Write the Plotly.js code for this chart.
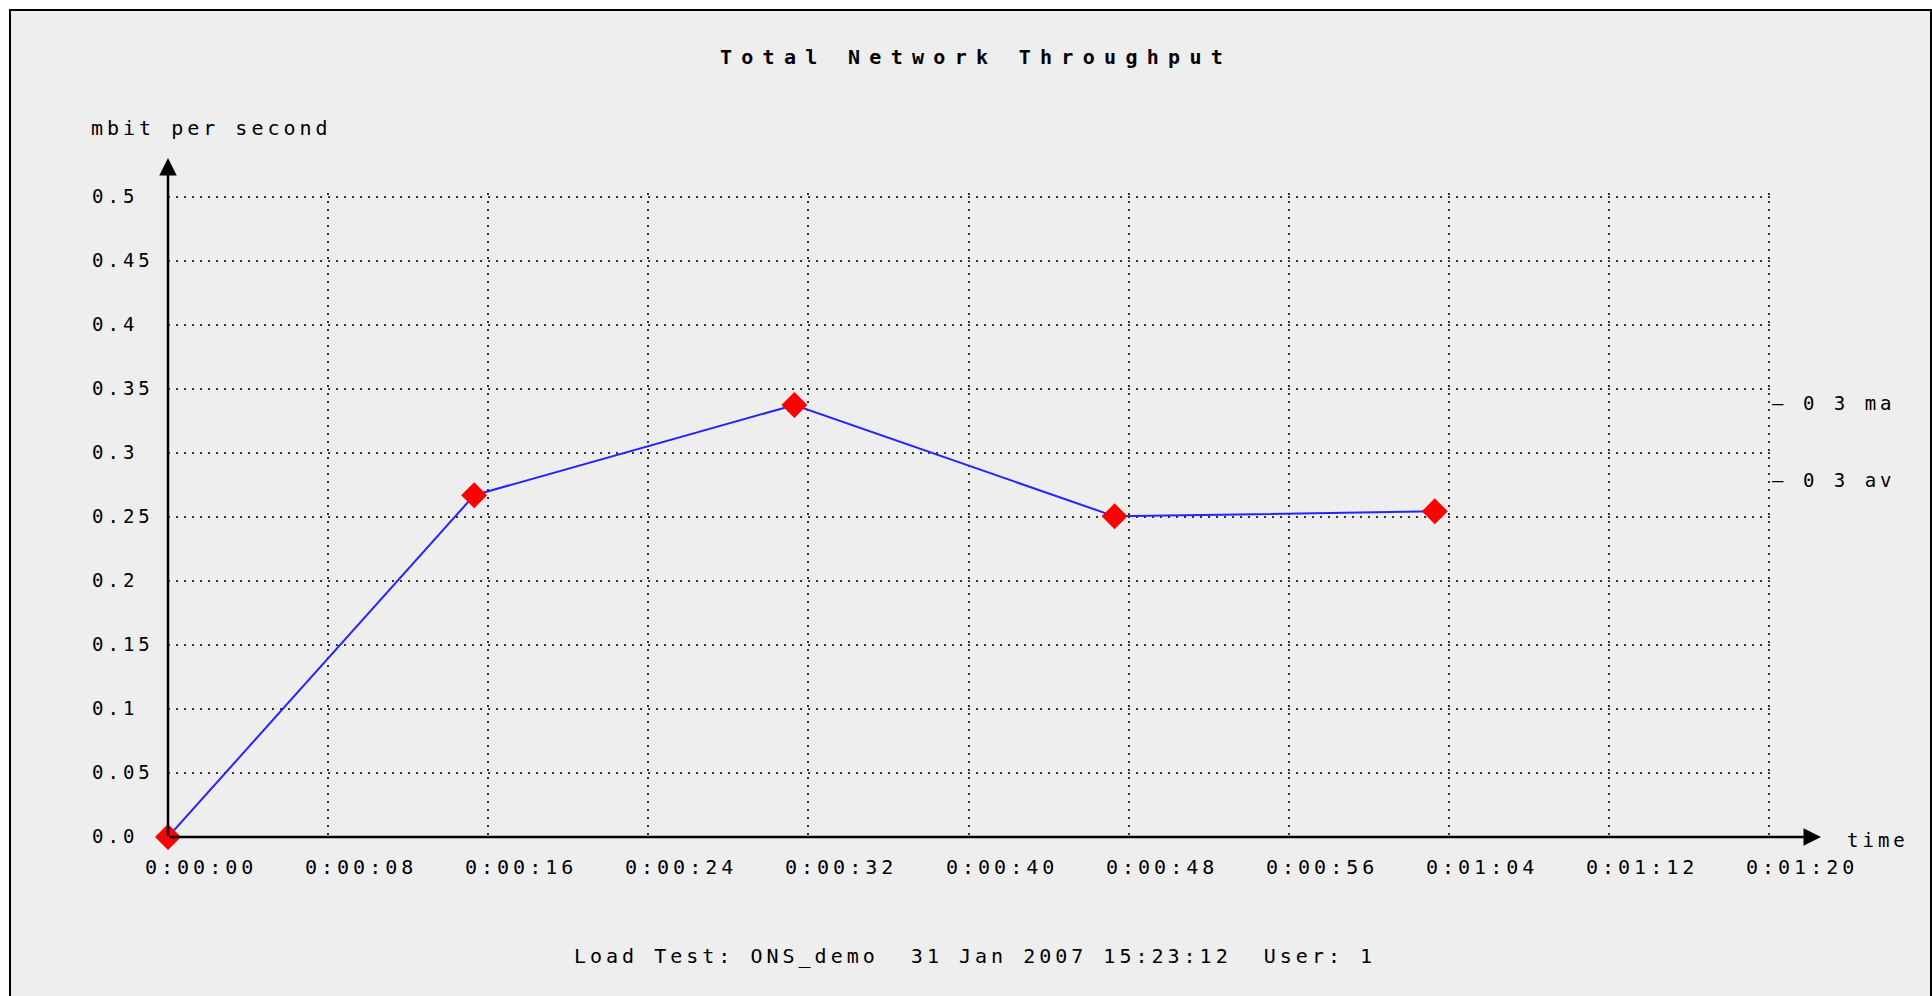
<!DOCTYPE html>
<html>
<head>
<meta charset="utf-8">
<script src="https://cdn.plot.ly/plotly-3.0.1.min.js"></script>
<style>
  html, body { margin: 0; padding: 0; background: #ffffff; overflow: hidden; }
  #frame { position: absolute; left: 9px; top: 9px; width: 1919px; height: 985px;
           border-left: 2px solid #000; border-top: 2px solid #000; border-right: 2px solid #000;
           background: #eeeeee; }
  #chart { width: 1919px; height: 985px; }
  .annotation-text { letter-spacing: 4px; }
  .gtitle { letter-spacing: 9.3px; }
</style>
</head>
<body>
<div id="frame"><div id="chart"></div></div>
<script>
// ---- data (seconds since start, mbit/s) ----
const times = [0, 15.3, 31.3, 47.3, 63.3];
const throughput = [0, 0.267, 0.3375, 0.2505, 0.2544];

// ---- tick labels ----
const xTickVals = [0, 8, 16, 24, 32, 40, 48, 56, 64, 72, 80];
const xTickText = ["0:00:00", "0:00:08", "0:00:16", "0:00:24", "0:00:32", "0:00:40",
                   "0:00:48", "0:00:56", "0:01:04", "0:01:12", "0:01:20"];
const yTickVals = [0, 0.05, 0.1, 0.15, 0.2, 0.25, 0.3, 0.35, 0.4, 0.45, 0.5];
const yTickText = ["0.0", "0.05", "0.1", "0.15", "0.2", "0.25", "0.3", "0.35", "0.4", "0.45", "0.5"];

// ---- texts ----
const titleText = "Total Network Throughput";
const yLabel = "mbit per second";
const xLabel = "time";
const footerText = "Load Test: ONS_demo  31 Jan 2007 15:23:12  User: 1";
const maxLabel = "\u2013 0 3 ma";
const avgLabel = "\u2013 0 3 av";

const FONT = "DejaVu Sans Mono";
const txt = {family: FONT, size: 19, color: "#000"};
const txtW = {family: FONT, size: 20, color: "#000"};

// ---- geometry (frame pixels; the frame starts at page offset 11,11) ----
const FW = 1919, FH = 985, OFF = 11;
const M = {l: 157, r: 157, t: 182, b: 159};
const PW = FW - M.l - M.r, PH = FH - M.t - M.b;
const paperX = px => (px - OFF - M.l) / PW;
const paperY = py => (M.t + PH - (py - OFF)) / PH;

const maxVal = Math.max(...throughput);
const nonZero = throughput.filter(v => v > 0);
const avgVal = nonZero.reduce((a, b) => a + b, 0) / nonZero.length;

const annotations = [];
// x tick labels
xTickVals.forEach((v, i) => annotations.push({
  xref: "x", yref: "paper", x: v, y: paperY(867), text: xTickText[i],
  showarrow: false, xanchor: "left", xshift: -25, yanchor: "middle", font: txtW
}));
// y tick labels (left aligned)
yTickVals.forEach((v, i) => annotations.push({
  xref: "paper", yref: "y", x: paperX(90), y: v, text: yTickText[i],
  showarrow: false, xanchor: "left", yanchor: "middle", yshift: 1, font: txt
}));
// axis labels
annotations.push({xref: "paper", yref: "paper", x: paperX(89), y: paperY(128), text: yLabel,
  showarrow: false, xanchor: "left", yanchor: "middle", font: txtW});
annotations.push({xref: "paper", yref: "paper", x: paperX(1845), y: paperY(840), text: xLabel,
  showarrow: false, xanchor: "left", yanchor: "middle", font: txt});
// footer
annotations.push({xref: "paper", yref: "paper", x: paperX(975), y: paperY(956), text: footerText,
  showarrow: false, xanchor: "center", yanchor: "middle", font: txtW});
// max / avg markers on the right
annotations.push({xref: "paper", yref: "y", x: paperX(1770), y: maxVal, text: maxLabel,
  showarrow: false, xanchor: "left", yanchor: "middle", yshift: 2, font: txt});
annotations.push({xref: "paper", yref: "y", x: paperX(1770), y: avgVal, text: avgLabel,
  showarrow: false, xanchor: "left", yanchor: "middle", yshift: 2, font: txt});
// axis arrows
annotations.push({xref: "x", yref: "y", axref: "x", ayref: "y",
  x: 82.6, y: 0, ax: 0, ay: 0, text: "", showarrow: true,
  arrowhead: 2, arrowsize: 1.4, arrowwidth: 2.5, arrowcolor: "#000", standoff: 0});
annotations.push({xref: "x", yref: "y", axref: "x", ayref: "y",
  x: 0, y: 0.5305, ax: 0, ay: 0, text: "", showarrow: true,
  arrowhead: 2, arrowsize: 1.4, arrowwidth: 2.5, arrowcolor: "#000", standoff: 0});

const trace = {
  x: times, y: throughput, type: "scatter", mode: "lines+markers",
  line: {color: "#2424ff", width: 2},
  marker: {symbol: "diamond", size: 20, color: "#ff0000"},
  cliponaxis: false, hoverinfo: "none"
};

const layout = {
  width: FW, height: FH,
  margin: M,
  paper_bgcolor: "#eeeeee", plot_bgcolor: "#eeeeee",
  showlegend: false,
  font: txt,
  title: {
    text: "<b>" + titleText + "</b>",
    font: {family: FONT, size: 20, color: "#000"},
    xref: "paper", x: paperX(976), xanchor: "center",
    yref: "container", y: 1 - (57 - OFF) / FH, yanchor: "middle"
  },
  xaxis: {
    range: [0, 80.2], tickvals: xTickVals, showticklabels: false, ticks: "",
    showgrid: true, gridcolor: "#333333", gridwidth: 2, griddash: "2px,6px",
    zeroline: false, showline: false, fixedrange: true
  },
  yaxis: {
    range: [0, 0.503125], tickvals: yTickVals, showticklabels: false, ticks: "",
    showgrid: true, gridcolor: "#333333", gridwidth: 2, griddash: "2px,6px",
    zeroline: false, showline: false, fixedrange: true
  },
  annotations: annotations
};

Plotly.newPlot("chart", [trace], layout, {displayModeBar: false, staticPlot: true});
</script>
</body>
</html>
